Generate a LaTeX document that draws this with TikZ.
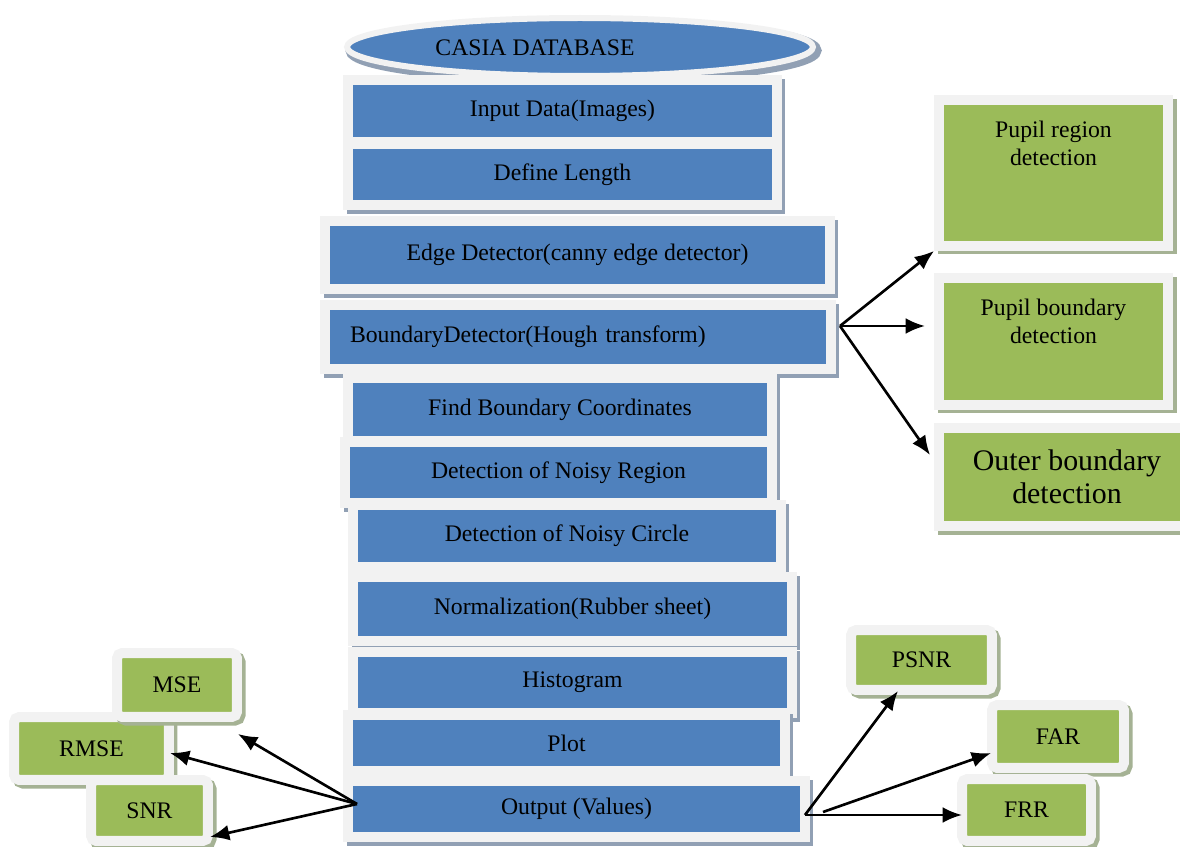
\documentclass[tikz,border=0pt]{standalone}
\usepackage{fontspec}
\setmainfont{Liberation Serif}
\usetikzlibrary{arrows.meta}
\usetikzlibrary{positioning}
\usetikzlibrary{shapes.geometric}

\definecolor{boxblue}{RGB}{79,129,189}
\definecolor{boxgreen}{RGB}{155,187,89}
\definecolor{framegray}{RGB}{242,242,242}
\definecolor{shadeblue}{RGB}{145,160,180}
\definecolor{shadegreen}{RGB}{165,178,148}

\tikzset{
  blk/.style={fill=boxblue, draw=framegray, line width=0.2cm, inner sep=0pt,
    font=\fontsize{13.5}{16}\selectfont,
    preaction={draw=shadeblue, line width=0.2cm, transform canvas={shift={(2pt,-2pt)}}}},
  grn/.style={fill=boxgreen, draw=framegray, line width=0.2cm, inner sep=0pt,
    font=\fontsize{13.5}{16}\selectfont,
    preaction={draw=shadegreen, line width=0.2cm, transform canvas={shift={(2pt,-2pt)}}}},
  sml/.style={grn, rounded corners=3pt},
  lbl/.style={anchor=north, yshift=-0.52cm, inner sep=0pt, align=center,
    font=\fontsize{13.5}{16}\selectfont},
  arr/.style={-{Latex[length=11pt,width=9pt]}, line width=1.5pt, black}
}

\begin{document}
\begin{tikzpicture}[x=0.02cm, y=-0.02cm]
  \useasboundingbox (0,0) rectangle (1180,847);
  \clip (0,0) rectangle (1180,847);

  % database
  \node[blk, ellipse, line width=0.12cm, minimum width=9.32cm, minimum height=1.16cm] (db) at (580,47) {};
  \node[font=\fontsize{13.5}{16}\selectfont] (dbtxt) at (535,48) {CASIA DATABASE};

  % main column
  \node[blk, minimum width=8.58cm, minimum height=1.24cm] (inp) at (562.5,111) {Input Data(Images)};
  \node[blk, minimum width=8.58cm, minimum height=1.22cm] (len) at (562.5,174.5) {Define Length};
  \node[blk, minimum width=10.10cm, minimum height=1.36cm] (edge) at (577.5,255) {Edge Detector(canny edge detector)};
  \node[blk, minimum width=10.12cm, minimum height=1.28cm, text width=9.12cm, align=left] (bnd) at (578,337) {BoundaryDetector(Hough transform)};
  \node[blk, minimum width=8.48cm, minimum height=1.26cm] (fbc) at (560,409.5) {Find Boundary Coordinates};
  \node[blk, minimum width=8.54cm, minimum height=1.22cm] (nreg) at (558.5,472.5) {Detection of Noisy Region};
  \node[blk, minimum width=8.56cm, minimum height=1.24cm] (ncir) at (567,536) {Detection of Noisy Circle};
  \node[blk, minimum width=8.78cm, minimum height=1.28cm] (norm) at (572.5,609) {Normalization(Rubber sheet)};
  \node[blk, minimum width=8.78cm, minimum height=1.22cm] (hist) at (572.5,682.5) {Histogram};
  \node[blk, minimum width=8.74cm, minimum height=1.12cm] (plot) at (566.5,743) {Plot};
  \node[blk, minimum width=9.14cm, minimum height=1.12cm] (out) at (576.5,809) {Output (Values)};

  % detection boxes
  \node[grn, minimum width=4.58cm, minimum height=2.92cm, label={[lbl]north:Pupil region\\detection}] (pr) at (1053.5,173) {};
  \node[grn, minimum width=4.58cm, minimum height=2.54cm, label={[lbl]north:Pupil boundary\\detection}] (pb) at (1053.5,341.5) {};
  \node[grn, minimum width=5.12cm, minimum height=1.96cm, align=center, font=\fontsize{17}{19}\selectfont] (ob) at (1067,477) {Outer boundary\\detection};

  % measures
  \node[sml, minimum width=3.10cm, minimum height=1.26cm] (rmse) at (91.5,748.5) {RMSE};
  \node[sml, minimum width=2.40cm, minimum height=1.28cm] (mse) at (177,685) {MSE};
  \node[sml, minimum width=2.34cm, minimum height=1.22cm] (snr) at (149.5,810.5) {SNR};
  \node[sml, minimum width=2.82cm, minimum height=1.20cm] (psnr) at (921.5,660) {PSNR};
  \node[sml, minimum width=2.64cm, minimum height=1.26cm] (far) at (1058,736.5) {FAR};
  \node[sml, minimum width=2.58cm, minimum height=1.24cm] (frr) at (1026.5,810) {FRR};

  % add arrows
  \coordinate (bfork) at (840,326);
  \coordinate (tpb) at (925,326);
  \coordinate (tob) at (930,455);
  \draw[arr] (bfork) -- (pr.south west);
  \draw[arr] (bfork) -- (tpb);
  \draw[arr] (bfork) -- (tob);

  \coordinate (lfork) at (357,804);
  \coordinate (tmse) at (238,734);
  \coordinate (trmse) at (170,753);
  \coordinate (tsnr) at (210,837);
  \draw[arr] (lfork) -- (tmse);
  \draw[arr] (lfork) -- (trmse);
  \draw[arr] (lfork) -- (tsnr);

  \coordinate (rfork) at (805,815);
  \coordinate (sfar) at (823,812);
  \coordinate (tpsnr) at (898,691);
  \coordinate (tfar) at (991,753);
  \coordinate (tfrr) at (962,815);
  \draw[arr] (rfork) -- (tpsnr);
  \draw[arr] (sfar) -- (tfar);
  \draw[arr] (rfork) -- (tfrr);
\end{tikzpicture}
\end{document}
